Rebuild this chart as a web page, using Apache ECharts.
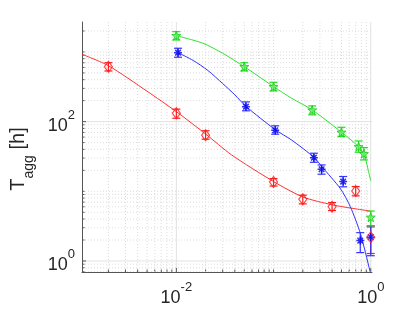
<!DOCTYPE html>
<html>
<head>
<meta charset="utf-8">
<script src="https://cdn.jsdelivr.net/npm/echarts@6/dist/echarts.min.js"></script>
<style>html,body{margin:0;padding:0;background:#fff}#c{width:412px;height:309px}</style>
</head>
<body>
<div id="c"></div>
<script>
// ---- data ----
const redX  = [0.002, 0.01, 0.02, 0.1, 0.2, 0.4, 0.7, 1.0];
const redY  = [615, 132, 64, 13.6, 7.7, 6.0, 10.1, 2.2];
const redLo = [533, 112, 56, 11.9, 6.6, 5.3, 8.6, 1.28];
const redHi = [701, 151, 74, 15.2, 8.8, 6.9, 11.7, 3.08];

const blueX  = [0.0104, 0.052, 0.104, 0.26, 0.312, 0.52, 0.78, 1.0];
const blueY  = [977, 164, 75, 30.4, 20.7, 13.8, 1.96, 2.2];
const blueLo = [840, 143, 66, 26.1, 17.6, 11.6, 1.32, 1.19];
const blueHi = [1130, 192, 87, 35.2, 23.9, 16.3, 2.55, 3.2];

const greenX  = [0.01, 0.05, 0.1, 0.25, 0.5, 0.75, 0.85, 1.0];
const greenY  = [1714, 615, 318, 147, 70.5, 43.7, 34.7, 4.25];
const greenLo = [1486, 533, 276, 125, 61, 36.4, 28.2, 3.2];
const greenHi = [1954, 700, 367, 168, 83, 52.8, 42.4, 5.2];

// fitted curves
const redFitX = [0.00107, 0.002, 0.005, 0.01, 0.02, 0.037, 0.1, 0.2, 0.4, 0.7, 1.0];
const redFitY = [927, 635, 273, 139, 66.5, 33.3, 13.8, 8.3, 6.4, 5.6, 5.2];
const blueFitX = [0.0104, 0.0149, 0.0211, 0.0299, 0.040, 0.0524, 0.105, 0.153, 0.263, 0.315, 0.49, 0.617, 0.781, 0.986, 1.0];
const blueFitY = [977, 755, 543, 353, 242, 164, 76, 54.6, 30.4, 22.5, 10.8, 6.0, 2.5, 0.70, 0.62];
const greenFitX = [0.01, 0.0188, 0.03, 0.05, 0.1, 0.153, 0.25, 0.5, 0.75, 0.86, 0.93, 1.0];
const greenFitY = [1714, 1333, 957, 615, 318, 217, 147, 70.5, 43.7, 33.3, 21.7, 14.1];

// axes
const xMin = 0.00107, xMax = 1.03;
const yMin = 0.695, yMax = 2690;
const xDecades = [-3, -2, -1, 0];
const yDecades = [-1, 0, 1, 2, 3];
const xLabelExps = [-2, 0];
const yLabelExps = [0, 2];

const FONT = 'Liberation Sans, Arial, Helvetica, sans-serif';

function minorVals(decs, lo, hi) {
  const out = [];
  decs.forEach(d => { for (let m = 1; m <= 9; m++) { const v = m * Math.pow(10, d); if (v >= lo && v <= hi) out.push(v); } });
  return out;
}
function isMajor(v, exps) {
  const l = Math.log10(v);
  return exps.some(e => Math.abs(l - e) < 1e-6);
}
const xGridVals = minorVals(xDecades, xMin, xMax);
const yGridVals = minorVals(yDecades, yMin, yMax);

function expLabel(v, exps) {
  const l = Math.log10(v);
  if (Math.abs(l - Math.round(l)) > 1e-6) return '';
  if (exps.indexOf(Math.round(l)) < 0) return '';
  return '{b|10}{e|' + Math.round(l) + '}';
}
const labelRich = {
  b: {fontSize: 18, fontFamily: FONT, color: '#262626', lineHeight: 26, verticalAlign: 'bottom'},
  e: {fontSize: 13, fontFamily: FONT, color: '#262626', lineHeight: 26, verticalAlign: 'top'}
};

function errBars(xs, lo, hi) { return xs.map((x, i) => [x, lo[i], hi[i]]); }
function pairs(xs, ys) { return xs.map((x, i) => [x, ys[i]]); }

function errSeries(name, color, xs, lo, hi) {
  return {
    type: 'custom', name: name, z: 4,
    data: errBars(xs, lo, hi),
    encode: {x: 0, y: [1, 2]},
    renderItem: function (params, api) {
      const x = api.value(0);
      const p1 = api.coord([x, api.value(2)]);
      const p2 = api.coord([x, api.value(1)]);
      const w = 4;
      const st = {stroke: color, lineWidth: 1.2};
      return {type: 'group', children: [
        {type: 'line', shape: {x1: p1[0], y1: p1[1], x2: p2[0], y2: p2[1]}, style: st},
        {type: 'line', shape: {x1: p1[0] - w, y1: p1[1], x2: p1[0] + w, y2: p1[1]}, style: st},
        {type: 'line', shape: {x1: p2[0] - w, y1: p2[1], x2: p2[0] + w, y2: p2[1]}, style: st}
      ]};
    }
  };
}

const asterisk = 'path://M0,-10L0,10M-10,0L10,0M-7,-7L7,7M-7,7L7,-7';
const star5 = 'path://M0,-10L2.35,-3.24L9.51,-3.09L3.8,1.24L5.88,8.09L0,4L-5.88,8.09L-3.8,1.24L-9.51,-3.09L-2.35,-3.24Z';

const chart = echarts.init(document.getElementById('c'), null, {renderer: 'canvas'});
chart.setOption({
  animation: false,
  backgroundColor: '#fff',
  grid: {left: 77, right: 40, top: 22, bottom: 37, containLabel: false},
  xAxis: {
    type: 'log', logBase: 10, min: xMin, max: xMax,
    axisLine: {show: true, onZero: false, lineStyle: {color: '#555', width: 1}},
    axisTick: {show: false}, splitLine: {show: false}, minorSplitLine: {show: false},
    axisLabel: {margin: 9, formatter: v => expLabel(v, xLabelExps), rich: labelRich, showMinLabel: true, showMaxLabel: true, hideOverlap: false}
  },
  yAxis: {
    type: 'log', logBase: 10, min: yMin, max: yMax,
    axisLine: {show: true, onZero: false, lineStyle: {color: '#555', width: 1}},
    axisTick: {show: false}, splitLine: {show: false},
    axisLabel: {margin: 7, formatter: v => expLabel(v, yLabelExps), rich: labelRich, hideOverlap: false},
    name: '{t|T}{s|agg}{t| [h]}', nameLocation: 'middle', nameGap: 46,
    nameTextStyle: {
      padding: [0, 24, 0, 0],
      rich: {
        t: {fontSize: 20, fontFamily: FONT, color: '#262626', lineHeight: 28, verticalAlign: 'top'},
        s: {fontSize: 14, fontFamily: FONT, color: '#262626', lineHeight: 28, verticalAlign: 'bottom'}
      }
    }
  },
  series: [
    {
      type: 'custom', name: 'xgrid', silent: true, z: 0,
      data: xGridVals.map(v => [v, 1]),
      encode: {x: 0, y: 1},
      renderItem: function (params, api) {
        const cs = params.coordSys;
        const v = api.value(0);
        const px = api.coord([v, 1])[0];
        const major = isMajor(v, xLabelExps);
        return {type: 'group', children: [
          {type: 'line', shape: {x1: px, y1: cs.y, x2: px, y2: cs.y + cs.height},
           style: major ? {stroke: '#e2e2e2', lineWidth: 1} : {stroke: '#dcdcdc', lineWidth: 1, lineDash: [1, 2]}},
          {type: 'line', shape: {x1: px, y1: cs.y + cs.height, x2: px, y2: cs.y + cs.height - (major ? 4 : 2.5)},
           style: {stroke: '#555', lineWidth: 1}}
        ]};
      }
    },
    {
      type: 'custom', name: 'ygrid', silent: true, z: 0,
      data: yGridVals.map(v => [0.01, v]),
      encode: {x: 0, y: 1},
      renderItem: function (params, api) {
        const cs = params.coordSys;
        const v = api.value(1);
        const py = api.coord([0.01, v])[1];
        const major = isMajor(v, yLabelExps);
        return {type: 'group', children: [
          {type: 'line', shape: {x1: cs.x, y1: py, x2: cs.x + cs.width, y2: py},
           style: major ? {stroke: '#e2e2e2', lineWidth: 1} : {stroke: '#dcdcdc', lineWidth: 1, lineDash: [1, 2]}},
          {type: 'line', shape: {x1: cs.x, y1: py, x2: cs.x + (major ? 4 : 2.5), y2: py},
           style: {stroke: '#555', lineWidth: 1}}
        ]};
      }
    },
    {type: 'line', name: 'redFit', data: pairs(redFitX, redFitY), smooth: 0.25, showSymbol: false, symbol: 'none',
     lineStyle: {color: '#ff3030', width: 1}, z: 3},
    {type: 'line', name: 'blueFit', data: pairs(blueFitX, blueFitY), smooth: 0.25, showSymbol: false, symbol: 'none',
     lineStyle: {color: '#3030ff', width: 1}, z: 3},
    {type: 'line', name: 'greenFit', data: pairs(greenFitX, greenFitY), smooth: 0.25, showSymbol: false, symbol: 'none',
     lineStyle: {color: '#30e030', width: 1}, z: 3},
    errSeries('redErr', '#ff1a1a', redX, redLo, redHi),
    errSeries('blueErr', '#3333ff', blueX, blueLo, blueHi),
    errSeries('greenErr', '#22dd22', greenX, greenLo, greenHi),
    {type: 'scatter', name: 'green', data: pairs(greenX, greenY), symbol: star5, symbolSize: 9, z: 5,
     itemStyle: {color: '#66ee66', borderColor: '#11cc11', borderWidth: 1}},
    {type: 'scatter', name: 'blue', data: pairs(blueX, blueY), symbol: asterisk, symbolSize: 8, z: 5,
     itemStyle: {color: 'none', borderColor: '#0000ee', borderWidth: 1.5}},
    {type: 'scatter', name: 'red', data: pairs(redX, redY), symbol: 'diamond', symbolSize: [8, 11], z: 6,
     itemStyle: {color: 'rgba(255,255,255,0)', borderColor: '#ff1a1a', borderWidth: 1.2}}
  ]
});
</script>
</body>
</html>
